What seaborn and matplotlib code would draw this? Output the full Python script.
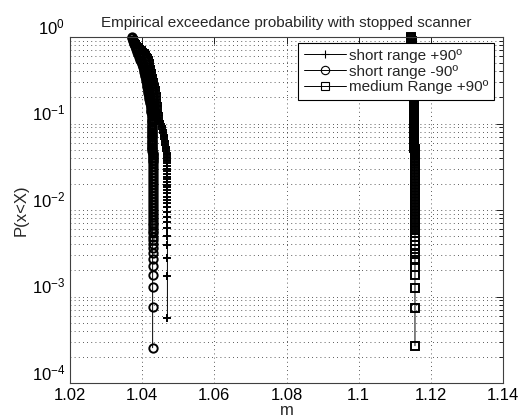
import seaborn as sns
import matplotlib.pyplot as plt
import pandas as pd
from matplotlib.ticker import LogLocator, NullFormatter

p_grid = [0.9995, 0.9609, 0.9232, 0.8871, 0.8523, 0.8190, 0.7869, 0.7561, 0.7265, 0.6981,
          0.6707, 0.6445, 0.6192, 0.5950, 0.5717, 0.5493, 0.5278, 0.5071, 0.4873, 0.4682,
          0.4499, 0.4323, 0.4153, 0.3991, 0.3835, 0.3684, 0.3540, 0.3402, 0.3268, 0.3140,
          0.3017, 0.2899, 0.2786, 0.2677, 0.2572, 0.2471, 0.2374, 0.2281, 0.2192, 0.2106,
          0.2024, 0.1945, 0.1869, 0.1795, 0.1725, 0.1658, 0.1593, 0.1531, 0.1471, 0.1413,
          0.1358, 0.1305, 0.1254, 0.1205, 0.1158, 0.1112, 0.1069, 0.1027, 0.0987, 0.0948,
          0.0911, 0.0875, 0.0841, 0.0808, 0.0777, 0.0746, 0.0717, 0.0689, 0.0662, 0.0636,
          0.0611, 0.0587, 0.0564, 0.0542, 0.0521, 0.0501, 0.0481, 0.0462, 0.0444, 0.0427,
          0.0410, 0.0394, 0.0379, 0.0364, 0.0349, 0.0322, 0.0297, 0.0274, 0.0253, 0.0234,
          0.0216, 0.0199, 0.0184, 0.0170, 0.0157, 0.0145, 0.0134, 0.0123, 0.0114, 0.0105,
          0.00970, 0.00895, 0.00827, 0.00763, 0.00705]

# short range +90º : x on p_grid[:85], then the sparse tail
sr_plus_x = [1.03764, 1.03785, 1.03806, 1.03834, 1.03861, 1.03903, 1.03945, 1.03986, 1.04028, 1.04069,
             1.04111, 1.04139, 1.04166, 1.04184, 1.04202, 1.04213, 1.04221, 1.04226, 1.04231, 1.04237,
             1.04242, 1.04251, 1.04260, 1.04269, 1.04278, 1.04287, 1.04298, 1.04308, 1.04319, 1.04330,
             1.04341, 1.04352, 1.04363, 1.04372, 1.04381, 1.04390, 1.04396, 1.04401, 1.04406, 1.04411,
             1.04414, 1.04417, 1.04421, 1.04424, 1.04427, 1.04430, 1.04433, 1.04436, 1.04441, 1.04445,
             1.04450, 1.04455, 1.04460, 1.04465, 1.04470, 1.04476, 1.04490, 1.04507, 1.04523, 1.04540,
             1.04550, 1.04560, 1.04570, 1.04578, 1.04587, 1.04595, 1.04602, 1.04608, 1.04615, 1.04620,
             1.04624, 1.04632, 1.04640, 1.04648, 1.04656, 1.04664, 1.04672, 1.04680, 1.04688, 1.04693,
             1.04694, 1.04696, 1.04697, 1.04697, 1.04698]
sr_plus_tail_p = [0.0323, 0.0300, 0.0280, 0.0261, 0.0243, 0.0226, 0.0211, 0.0196, 0.0183, 0.0170,
                  0.0156, 0.01425, 0.01305, 0.01195, 0.01074, 0.00955, 0.00837, 0.00732, 0.00614, 0.00500,
                  0.00394, 0.00276, 0.00173, 0.00057]
sr_plus_tail_x = [1.0470, 1.0470, 1.0470, 1.0470, 1.0470, 1.0470, 1.0470, 1.0470, 1.0470, 1.0470,
                  1.0470, 1.0470, 1.0470, 1.0470, 1.0470, 1.0470, 1.0470, 1.0470, 1.0470, 1.0470,
                  1.0470, 1.0470, 1.0470, 1.0470]

# short range -90º : x on p_grid[:103], then the tail
sr_minus_x = [1.03709, 1.03723, 1.03737, 1.03753, 1.03770, 1.03787, 1.03803, 1.03820, 1.03836, 1.03853,
              1.03870, 1.03886, 1.03903, 1.03919, 1.03936, 1.03953, 1.03969, 1.03984, 1.03998, 1.04013,
              1.04027, 1.04040, 1.04053, 1.04062, 1.04071, 1.04081, 1.04089, 1.04097, 1.04106, 1.04114,
              1.04121, 1.04129, 1.04136, 1.04143, 1.04149, 1.04156, 1.04162, 1.04170, 1.04178, 1.04186,
              1.04194, 1.04203, 1.04211, 1.04218, 1.04226, 1.04233, 1.04240, 1.04247, 1.04252, 1.04255,
              1.04258, 1.04261, 1.04265, 1.04267, 1.04270, 1.04272, 1.04274, 1.04275, 1.04275, 1.04276,
              1.04277, 1.04277, 1.04278, 1.04279, 1.04279, 1.04280, 1.04281, 1.04281, 1.04282, 1.04283,
              1.04283, 1.04284, 1.04284, 1.04285, 1.04285, 1.04286, 1.04286, 1.04287, 1.04288, 1.04288,
              1.04289, 1.04290, 1.04291, 1.0429, 1.0429, 1.0429, 1.0429, 1.0429, 1.0429, 1.0429,
              1.0429, 1.0429, 1.0429, 1.0429, 1.0429, 1.0429, 1.0429, 1.0429, 1.0429, 1.0429,
              1.0429, 1.0429, 1.0429]
sr_minus_tail_p = [0.00765, 0.00713, 0.00665, 0.00619, 0.00577, 0.00538, 0.00491, 0.00450, 0.00404, 0.00361,
                   0.00316, 0.00271, 0.00227, 0.00177, 0.00128, 0.00076, 0.000256]
sr_minus_tail_x = [1.0429, 1.0429, 1.0429, 1.0429, 1.0429, 1.0429, 1.0429, 1.0429, 1.0429, 1.0429,
                   1.0429, 1.0429, 1.0429, 1.0429, 1.0429, 1.0429, 1.0429]

# medium Range +90º : x on all of p_grid, then the tail
mr_plus_x = [1.1145, 1.11455, 1.1146, 1.11465, 1.1147, 1.1148, 1.1149, 1.1150, 1.1151, 1.1152,
             1.1153, 1.1153, 1.1153, 1.1153, 1.1153, 1.1153, 1.1153, 1.1153, 1.1153, 1.1153,
             1.1153, 1.1153, 1.1153, 1.1153, 1.1153, 1.1153, 1.1153, 1.1153, 1.1153, 1.1153,
             1.1153, 1.1153, 1.1153, 1.1153, 1.1153, 1.1153, 1.1153, 1.1153, 1.1153, 1.1153,
             1.1153, 1.1153, 1.1153, 1.1153, 1.1153, 1.1153, 1.1153, 1.1153, 1.1153, 1.1153,
             1.1153, 1.1153, 1.1153, 1.1153, 1.1153, 1.1153, 1.1153, 1.1153, 1.1153, 1.1153,
             1.1153, 1.1153, 1.1153, 1.1153, 1.1153, 1.1154, 1.1154, 1.1154, 1.1154, 1.1154,
             1.1154, 1.1154, 1.1154, 1.1154, 1.1154, 1.1155, 1.1155, 1.1155, 1.1155, 1.1155,
             1.1155, 1.1155, 1.1155, 1.1155, 1.1155, 1.1155, 1.1155, 1.1155, 1.1155, 1.1155,
             1.1156, 1.1156, 1.1156, 1.1156, 1.1156, 1.1156, 1.1156, 1.1156, 1.1156, 1.1156,
             1.1156, 1.1156, 1.1156, 1.1156, 1.1156]
mr_plus_tail_p = [0.00641, 0.00587, 0.00538, 0.00491, 0.00442, 0.00394, 0.00351, 0.00308, 0.00264, 0.00221,
                  0.00177, 0.00124, 0.00073, 0.00027]
mr_plus_tail_x = [1.1156, 1.1156, 1.1156, 1.1156, 1.1156, 1.1156, 1.1156, 1.1156, 1.1156, 1.1156,
                  1.1156, 1.1156, 1.1156, 1.1156]

x_ticks = [1.02, 1.04, 1.06, 1.08, 1.10, 1.12, 1.14]
x_tick_labels = ["1.02", "1.04", "1.06", "1.08", "1.1", "1.12", "1.14"]

names = ["short range +90º", "short range -90º", "medium Range +90º"]
markers = {names[0]: "+", names[1]: "o", names[2]: "s"}

df = pd.concat([
    pd.DataFrame({"m": sr_plus_x + sr_plus_tail_x, "P": p_grid[:85] + sr_plus_tail_p, "series": names[0]}),
    pd.DataFrame({"m": sr_minus_x + sr_minus_tail_x, "P": p_grid[:103] + sr_minus_tail_p, "series": names[1]}),
    pd.DataFrame({"m": mr_plus_x + mr_plus_tail_x, "P": p_grid + mr_plus_tail_p, "series": names[2]}),
], ignore_index=True)

sns.set_style("white")
plt.rcParams["font.family"] = ["Liberation Sans", "DejaVu Sans"]
plt.rcParams["mathtext.fontset"] = "custom"
plt.rcParams["mathtext.rm"] = "Liberation Sans"

fig = plt.figure(figsize=(5.31, 4.19), dpi=100)
ax = fig.add_axes([0.1318, 0.0859, 0.8155, 0.8258])
ax.set_yscale("log")

for name in names:
    sns.lineplot(
        data=df[df["series"] == name],
        x="m",
        y="P",
        sort=False,
        estimator=None,
        color="black",
        linewidth=0.7,
        marker=markers[name],
        markersize=6,
        markerfacecolor="none",
        markeredgecolor="black",
        markeredgewidth=1.4,
        clip_on=False,
        label=name,
        ax=ax,
    )

ax.set_xlim(1.02, 1.14)
ax.set_ylim(1e-4, 1)
ax.set_xticks(x_ticks)
ax.set_xticklabels(x_tick_labels)
ax.yaxis.set_minor_locator(LogLocator(base=10, subs=range(2, 10)))
ax.yaxis.set_minor_formatter(NullFormatter())

grid_style = dict(color="0.15", linestyle=(0, (1, 4)), linewidth=0.6)
ax.grid(True, which="major", axis="both", **grid_style)
ax.grid(True, which="minor", axis="y", **grid_style)

ax.tick_params(which="both", direction="in", top=True, right=True, width=0.6, colors="black", labelsize=12)
ax.tick_params(which="major", length=5)
ax.tick_params(which="minor", length=3)
for lab in ax.get_yticklabels():
    lab.set_verticalalignment("bottom")
for s in ax.spines.values():
    s.set_color("0.25")
    s.set_linewidth(0.8)

ax.set_title("Empirical exceedance probability with stopped scanner", fontsize=11, pad=7)
ax.set_xlabel("m", fontsize=12, labelpad=0)
ax.set_ylabel("P(x<X)", fontsize=12, labelpad=2)

leg = ax.legend(loc="upper right", bbox_to_anchor=(0.979, 0.983), borderaxespad=0,
                numpoints=1, handlelength=2.8, handletextpad=0.15,
                labelspacing=0.12, borderpad=0.38,
                fancybox=False, framealpha=1, edgecolor="black", fontsize=11)
leg.get_frame().set_linewidth(0.8)
# thin markers in the legend, as in the original
for h in leg.legend_handles:
    h.set_markeredgewidth(0.8)

fig.savefig("out.png", dpi=100)
